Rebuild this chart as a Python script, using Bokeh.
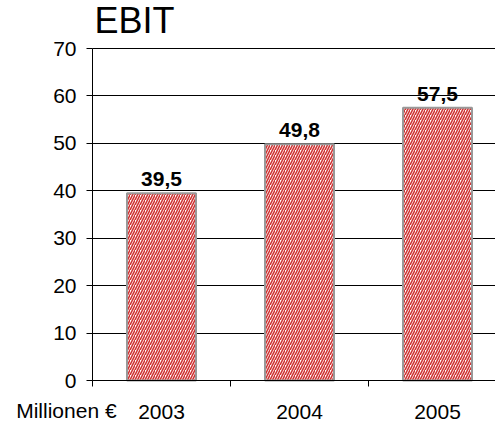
from bokeh.plotting import figure
from bokeh.models import Range1d, FixedTicker, Label, ColumnDataSource
from bokeh.core.properties import value
from bokeh.embed import file_html
from bokeh.resources import INLINE

years = ["2003", "2004", "2005"]
ebit = [39.5, 49.8, 57.5]
labels = ["39,5", "49,8", "57,5"]
yticks = [0, 10, 20, 30, 40, 50, 60, 70]
unit_label = "Millionen €"
title = "EBIT"

xpos = [i + 0.5 for i in range(len(years))]
src = ColumnDataSource(dict(x=xpos, top=ebit, lab=labels))

FONT = "Liberation Sans"
W, H = 495, 424
X0, PXU = 92, 138.0          # pixel of x=0 and pixels per category
Y0, PYU = 380, 332 / 70.0    # pixel of y=0 and pixels per unit
X_START, X_END = -X0 / PXU, (W - X0) / PXU
Y_START, Y_END = -(H - Y0) / PYU, Y0 / PYU

p = figure(width=W, height=H, output_backend="svg", toolbar_location=None,
           x_range=Range1d(X_START, X_END), y_range=Range1d(Y_START, Y_END),
           min_border=0, min_border_left=0, min_border_right=0,
           min_border_top=0, min_border_bottom=0)
p.outline_line_color = None
p.background_fill_color = "white"
p.border_fill_color = "white"

# grid only to the right of the value axis
try:
    p.ygrid.cross_bounds = (0, X_END)
    masked = False
except Exception:
    masked = True
p.ygrid.grid_line_color = "black"
p.ygrid.grid_line_width = 1
p.xgrid.grid_line_color = None
if masked:
    p.quad(left=[X_START], right=[0], bottom=[0], top=[max(yticks)],
           fill_color="white", line_color=None)

p.vbar(x="x", top="top", width=0.5, source=src, fill_color="white",
       hatch_pattern="/", hatch_scale=5, hatch_weight=1.6, hatch_color="#d03434",
       line_color="#999999", line_width=2)

p.text(x="x", y="top", text="lab", source=src, text_align="center", text_baseline="alphabetic",
       y_offset=-14, text_font=value(FONT), text_font_style="bold", text_font_size="21px",
       text_color="black")

# y axis at x=0
p.yaxis.fixed_location = 0
p.yaxis.bounds = (0, max(yticks))
p.yaxis.ticker = FixedTicker(ticks=yticks)
p.yaxis.axis_line_color = "black"
p.yaxis.major_tick_out = 6
p.yaxis.major_tick_in = 0
p.yaxis.minor_tick_line_color = None
p.yaxis.major_label_text_font = FONT
p.yaxis.major_label_text_font_size = "21px"
p.yaxis.major_label_text_color = "black"
p.yaxis.major_label_standoff = 10

# x axis at y=0
p.xaxis.fixed_location = 0
p.xaxis.bounds = (0, X_END)
p.xaxis.ticker = FixedTicker(ticks=xpos, minor_ticks=list(range(len(years) + 1)))
p.xaxis.major_label_overrides = {x: y for x, y in zip(xpos, years)}
p.xaxis.major_tick_line_color = None
p.xaxis.major_tick_out = 0
p.xaxis.major_tick_in = 0
p.xaxis.minor_tick_out = 6
p.xaxis.minor_tick_in = 0
p.xaxis.minor_tick_line_color = "black"
p.xaxis.axis_line_color = "black"
p.xaxis.major_label_text_font = FONT
p.xaxis.major_label_text_font_size = "21px"
p.xaxis.major_label_text_color = "black"
p.xaxis.major_label_standoff = 18

p.add_layout(Label(x=-0.553, y=-30 / PYU, text=unit_label,
                   text_font=FONT, text_font_size="21px", text_color="black",
                   text_baseline="alphabetic"))

p.add_layout(Label(x=0.014, y=(Y0 - 20) / PYU, text=title,
                   text_font=FONT, text_font_size="36px", text_color="black",
                   text_baseline="alphabetic"))

open("out.html", "w").write(file_html(p, INLINE))
